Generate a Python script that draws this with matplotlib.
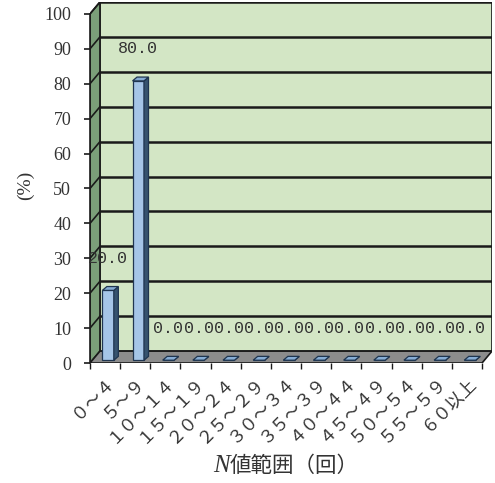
import matplotlib
matplotlib.use("Agg")
import matplotlib.pyplot as plt
from matplotlib.patches import Polygon, Rectangle

# N-value ranges (full-width digits) and share of samples in each range (%)
categories = ["０～４", "５～９", "１０～１４", "１５～１９", "２０～２４", "２５～２９",
              "３０～３４", "３５～３９", "４０～４４", "４５～４９", "５０～５４",
              "５５～５９", "６０以上"]
values = [20.0, 80.0, 0.0, 0.0, 0.0, 0.0, 0.0, 0.0, 0.0, 0.0, 0.0, 0.0, 0.0]
y_ticks = [0, 10, 20, 30, 40, 50, 60, 70, 80, 90, 100]

SERIF = ["Liberation Serif", "Noto Sans CJK JP"]
CJK = ["Noto Sans CJK JP", "DejaVu Sans"]
TXT = "#333333"

W, H = 495, 483
fig = plt.figure(figsize=(W / 100, H / 100), dpi=100)
ax = fig.add_axes([90 / W, (H - 363) / H, (492 - 90) / W, (363 - 2) / H])

n = len(categories)
D, E = 0.33, 3.4          # depth offset of the back wall (x units, % units)
x0, x1 = -0.5, n - 0.5
ax.set_xlim(x0, x1 + D)
ax.set_ylim(0, 100 + E)

wall_green = "#d3e6c5"
side_green = "#7b9f79"
floor_grey = "#8c8c8c"
edge = "#1a1a1a"

# back wall
ax.add_patch(Rectangle((x0 + D, E), x1 - x0, 100, facecolor=wall_green,
                       edgecolor=edge, lw=1.2, zorder=1))
# left side wall
ax.add_patch(Polygon([(x0, 0), (x0, 100), (x0 + D, 100 + E), (x0 + D, E)],
                     closed=True, facecolor=side_green, edgecolor=edge, lw=1.2, zorder=1))
# gridlines on back and side walls
for v in y_ticks[1:]:
    ax.plot([x0 + D, x1 + D], [v + E, v + E], color=edge, lw=1.8, zorder=2,
            solid_capstyle="butt")
    ax.plot([x0, x0 + D], [v, v + E], color=edge, lw=1.2, zorder=2)
# floor
ax.add_patch(Polygon([(x0, 0), (x1, 0), (x1 + D, E), (x0 + D, E)], closed=True,
                     facecolor=floor_grey, edgecolor=edge, lw=1.2, zorder=2))

# bars: front faces from the data, side and top faces from each bar patch
shift, base = 0.1, 0.8
bdx, bdy = 0.15, 1.1
xs = [i + shift for i in range(n)]
bars = ax.bar(xs, values, width=0.38, bottom=base, color="#a5c5e7",
              edgecolor="#1f3550", lw=0.9, zorder=4)
for b in bars:
    bx, by, bw, bh = b.get_x(), b.get_y(), b.get_width(), b.get_height()
    top = by + bh
    ax.add_patch(Polygon([(bx + bw, by), (bx + bw + bdx, by + bdy),
                          (bx + bw + bdx, top + bdy), (bx + bw, top)], closed=True,
                         facecolor="#36536f", edgecolor="#1f3550", lw=0.9, zorder=4))
    ax.add_patch(Polygon([(bx, top), (bx + bw, top), (bx + bw + bdx, top + bdy),
                          (bx + bdx, top + bdy)], closed=True,
                         facecolor="#86acd4", edgecolor="#1f3550", lw=0.9, zorder=5))

# data labels
for x, v in zip(xs, values):
    ax.text(x, v + 10, f"{v:.1f}", ha="center", va="center", fontsize=12,
            family=["Liberation Mono", "DejaVu Sans Mono"], color=TXT, zorder=6)

# axes styling
for s in ("top", "right", "bottom"):
    ax.spines[s].set_visible(False)
ax.spines["left"].set_bounds(0, 100)
ax.spines["left"].set_color(edge)
ax.spines["left"].set_linewidth(1.2)
ax.spines["left"].set_zorder(3)

ax.set_yticks(y_ticks)
ax.set_yticklabels([str(t) for t in y_ticks], family=SERIF, fontsize=13, color=TXT)
ax.tick_params(axis="y", length=4, width=1.2, color=edge, pad=9.5)

ax.set_xticks(range(n))
ax.set_xticklabels(categories, family=CJK, fontsize=12.5, color=TXT,
                   rotation=45, ha="right", va="top", rotation_mode="anchor")
ax.tick_params(axis="x", which="major", length=0, pad=7)
ax.set_xticks([i - 0.5 for i in range(n + 1)], minor=True)
ax.tick_params(axis="x", which="minor", length=4, width=1.0, color=edge)

# axis titles
fig.text(25 / W, 1 - 185 / H, "(%)", rotation=90, ha="center", va="center",
         family=SERIF, fontsize=14, color=TXT)
fig.text(230 / W, 1 - 466 / H, "N", ha="right", va="center", family=SERIF,
         style="italic", fontsize=18, color=TXT)
fig.text(230 / W, 1 - 466 / H, "値範囲（回）", ha="left", va="center",
         family=CJK, fontsize=15.5, color=TXT)

fig.savefig("out.png", dpi=100)
